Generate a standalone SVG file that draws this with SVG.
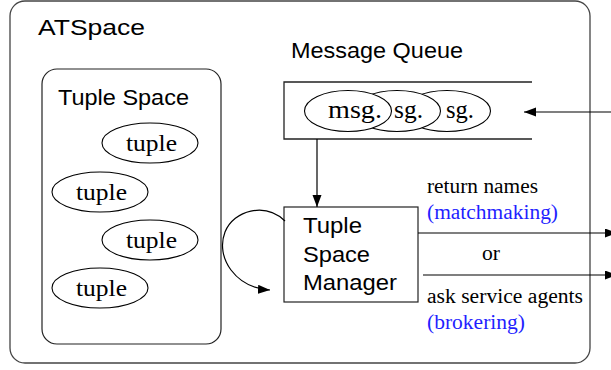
<svg xmlns="http://www.w3.org/2000/svg" width="611" height="370" viewBox="0 0 611 370">
<style>
.sans{font-family:"Liberation Sans",Arial,sans-serif;font-size:22px;fill:#000}
.serif{font-family:"Liberation Serif","Times New Roman",serif;fill:#000}
.lbl{font-size:20px}
.blue{fill:#1f1fff}
.box{fill:#fff;stroke:#222;stroke-width:1.2}
.ell{fill:#fff;stroke:#000;stroke-width:1.1}
.wire{fill:none;stroke:#000;stroke-width:1.2}
</style>
<defs>
<marker id="ah" markerUnits="userSpaceOnUse" markerWidth="13" markerHeight="10" refX="12" refY="4.5" orient="auto">
<path d="M0,0 L12,4.5 L0,9 z" fill="#000"/>
</marker>
</defs>
<g id="atspace">
<rect x="10" y="1" width="580" height="362" rx="15" fill="#fff" stroke="#444" stroke-width="1.3"/>
<text class="sans" x="38" y="35" font-size="24" textLength="107" lengthAdjust="spacingAndGlyphs">ATSpace</text>
</g>
<g id="tuple-space">
<rect class="box" x="42" y="69" width="179" height="275" rx="15"/>
<text class="sans" x="58" y="105" textLength="131" lengthAdjust="spacingAndGlyphs">Tuple Space</text>
</g>
<g id="tuple1"><ellipse class="ell" cx="150" cy="143" rx="48" ry="20"/><text class="serif" x="151.5" y="151" font-size="24" text-anchor="middle" textLength="51" lengthAdjust="spacingAndGlyphs">tuple</text></g>
<g id="tuple2"><ellipse class="ell" cx="100" cy="192" rx="48" ry="20"/><text class="serif" x="101.5" y="200" font-size="24" text-anchor="middle" textLength="51" lengthAdjust="spacingAndGlyphs">tuple</text></g>
<g id="tuple3"><ellipse class="ell" cx="150" cy="240" rx="48" ry="20"/><text class="serif" x="151.5" y="248" font-size="24" text-anchor="middle" textLength="51" lengthAdjust="spacingAndGlyphs">tuple</text></g>
<g id="tuple4"><ellipse class="ell" cx="100" cy="288" rx="48" ry="20"/><text class="serif" x="101.5" y="296" font-size="24" text-anchor="middle" textLength="51" lengthAdjust="spacingAndGlyphs">tuple</text></g>
<g id="message-queue">
<text class="sans" x="291" y="58" textLength="172" lengthAdjust="spacingAndGlyphs">Message Queue</text>
<path d="M532,82 H284 V139 H532" fill="none" stroke="#222" stroke-width="1.3"/>
</g>
<g id="msg3"><ellipse class="ell" cx="447" cy="111" rx="43.5" ry="20.5"/><text class="serif" x="446" y="118" font-size="26" textLength="28" lengthAdjust="spacingAndGlyphs">sg.</text></g>
<g id="msg2"><ellipse class="ell" cx="397" cy="111" rx="43.5" ry="20.5"/><text class="serif" x="394" y="118" font-size="26" textLength="29" lengthAdjust="spacingAndGlyphs">sg.</text></g>
<g id="msg1"><ellipse class="ell" cx="348" cy="111" rx="43.5" ry="20.5"/><text class="serif" x="328" y="118" font-size="26" textLength="54" lengthAdjust="spacingAndGlyphs">msg.</text></g>
<g id="tsm">
<rect class="box" x="284" y="207" width="134" height="95"/>
<text class="sans" x="303" y="233" textLength="59" lengthAdjust="spacingAndGlyphs">Tuple</text>
<text class="sans" x="303" y="262" textLength="67" lengthAdjust="spacingAndGlyphs">Space</text>
<text class="sans" x="303" y="290" textLength="94" lengthAdjust="spacingAndGlyphs">Manager</text>
</g>
<g id="connectors">
<line class="wire" x1="611" y1="112" x2="524" y2="112" marker-end="url(#ah)"/>
<line class="wire" x1="317" y1="139" x2="317" y2="207" marker-end="url(#ah)"/>
<path class="wire" d="M285,221 C265,202 234,210 225,232 C215,258 236,288 270,290" marker-end="url(#ah)"/>
<line class="wire" x1="418" y1="233" x2="617" y2="233" marker-end="url(#ah)"/>
<line class="wire" x1="423" y1="275" x2="617" y2="275" marker-end="url(#ah)"/>
</g>
<g id="labels">
<text class="serif lbl" x="427" y="193" textLength="111" lengthAdjust="spacingAndGlyphs">return names</text>
<text class="serif lbl blue" x="427" y="219" textLength="131" lengthAdjust="spacingAndGlyphs">(matchmaking)</text>
<text class="serif lbl" x="482" y="260" textLength="18" lengthAdjust="spacingAndGlyphs">or</text>
<text class="serif lbl" x="427" y="303" textLength="156" lengthAdjust="spacingAndGlyphs">ask service agents</text>
<text class="serif lbl blue" x="427" y="329" textLength="98" lengthAdjust="spacingAndGlyphs">(brokering)</text>
</g>
</svg>
